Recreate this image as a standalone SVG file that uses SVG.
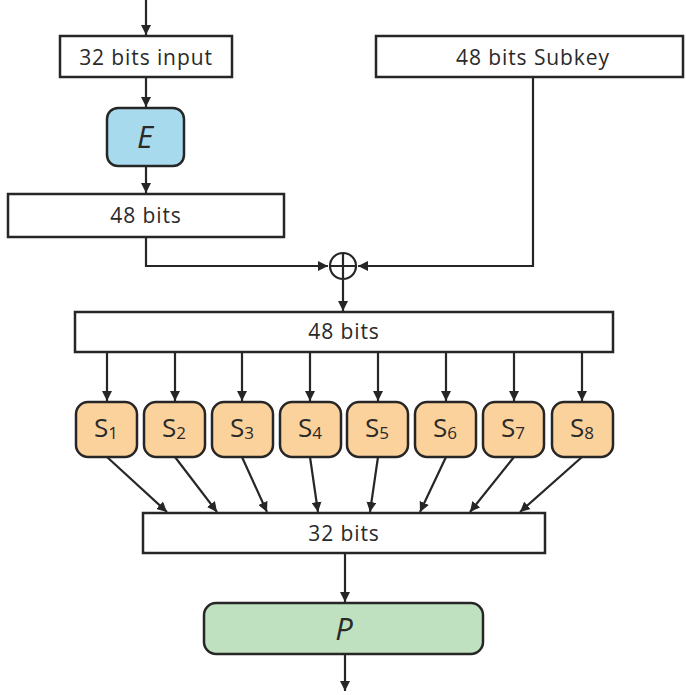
<svg xmlns="http://www.w3.org/2000/svg" width="686" height="695" viewBox="0 0 686 695">
<style>
.box{fill:#fff;stroke:#262626;stroke-width:2.5}
.s{fill:#fcd29c;stroke:#262626;stroke-width:2.5}
.lbl{font-family:"Open Sans","Liberation Sans",sans-serif;font-size:21px;letter-spacing:0.9px;fill:#2a2a2a;text-anchor:middle}
.big{font-family:"Open Sans","Liberation Sans",sans-serif;font-size:31px;font-style:italic;fill:#2a2a2a;text-anchor:middle}
.sl{font-family:"Open Sans","Liberation Sans",sans-serif;font-size:26px;fill:#2a2a2a;text-anchor:middle}
.c{fill:none;stroke:#262626;stroke-width:2.2}
</style>
<defs>
<marker id="ah" viewBox="0 0 10 10" refX="10" refY="5" markerWidth="10" markerHeight="10" markerUnits="userSpaceOnUse" orient="auto">
<path d="M0,0 L10,5 L0,10 Z" fill="#262626"/>
</marker>
</defs>
<g id="connectors">
<path class="c" d="M146,0 V35" marker-end="url(#ah)"/>
<path class="c" d="M146,77 V107" marker-end="url(#ah)"/>
<path class="c" d="M146,166 V193" marker-end="url(#ah)"/>
<path class="c" d="M146,237 V266 H328" marker-end="url(#ah)"/>
<path class="c" d="M533,77 V266 H358" marker-end="url(#ah)"/>
<path class="c" d="M343,280 V311" marker-end="url(#ah)"/>
<path class="c" d="M107,352 V401" marker-end="url(#ah)"/>
<path class="c" d="M175,352 V401" marker-end="url(#ah)"/>
<path class="c" d="M242,352 V401" marker-end="url(#ah)"/>
<path class="c" d="M310,352 V401" marker-end="url(#ah)"/>
<path class="c" d="M378,352 V401" marker-end="url(#ah)"/>
<path class="c" d="M446,352 V401" marker-end="url(#ah)"/>
<path class="c" d="M514,352 V401" marker-end="url(#ah)"/>
<path class="c" d="M582,352 V401" marker-end="url(#ah)"/>
<path class="c" d="M107,457 L167,512" marker-end="url(#ah)"/>
<path class="c" d="M175,457 L217,512" marker-end="url(#ah)"/>
<path class="c" d="M242,457 L267,512" marker-end="url(#ah)"/>
<path class="c" d="M310,457 L318,512" marker-end="url(#ah)"/>
<path class="c" d="M378,457 L370,512" marker-end="url(#ah)"/>
<path class="c" d="M446,457 L420,512" marker-end="url(#ah)"/>
<path class="c" d="M514,457 L470,512" marker-end="url(#ah)"/>
<path class="c" d="M582,457 L520,512" marker-end="url(#ah)"/>
<path class="c" d="M345,553 V602" marker-end="url(#ah)"/>
<path class="c" d="M345,654 V691" marker-end="url(#ah)"/>
</g>
<g id="input32">
<rect class="box" x="60" y="36" width="172" height="41"/>
<text class="lbl" x="146" y="65">32 bits input</text>
</g>
<g id="E">
<rect x="107" y="108" width="77" height="58" rx="11" fill="#a8daee" stroke="#262626" stroke-width="2.5"/>
<text class="big" x="145" y="148">E</text>
</g>
<g id="e48">
<rect class="box" x="8" y="194" width="276" height="43"/>
<text class="lbl" x="146" y="223">48 bits</text>
</g>
<g id="subkey">
<rect class="box" x="376" y="36" width="307" height="41"/>
<text class="lbl" x="533" y="65">48 bits Subkey</text>
</g>
<g id="xor">
<circle cx="343" cy="266" r="13" fill="#fff" stroke="#262626" stroke-width="2.2"/>
<path d="M330,266 H356 M343,253 V279" stroke="#262626" stroke-width="2.2"/>
</g>
<g id="b48">
<rect class="box" x="75" y="312" width="538" height="40"/>
<text class="lbl" x="344" y="339">48 bits</text>
</g>
<g id="S1"><rect class="s" x="76" y="402" width="61" height="55" rx="12"/><text class="sl" x="106" y="437">S<tspan font-size="17" dy="2">1</tspan></text></g>
<g id="S2"><rect class="s" x="144" y="402" width="61" height="55" rx="12"/><text class="sl" x="174" y="437">S<tspan font-size="17" dy="2">2</tspan></text></g>
<g id="S3"><rect class="s" x="212" y="402" width="61" height="55" rx="12"/><text class="sl" x="242" y="437">S<tspan font-size="17" dy="2">3</tspan></text></g>
<g id="S4"><rect class="s" x="280" y="402" width="61" height="55" rx="12"/><text class="sl" x="310" y="437">S<tspan font-size="17" dy="2">4</tspan></text></g>
<g id="S5"><rect class="s" x="347" y="402" width="61" height="55" rx="12"/><text class="sl" x="377" y="437">S<tspan font-size="17" dy="2">5</tspan></text></g>
<g id="S6"><rect class="s" x="415" y="402" width="61" height="55" rx="12"/><text class="sl" x="445" y="437">S<tspan font-size="17" dy="2">6</tspan></text></g>
<g id="S7"><rect class="s" x="483" y="402" width="61" height="55" rx="12"/><text class="sl" x="513" y="437">S<tspan font-size="17" dy="2">7</tspan></text></g>
<g id="S8"><rect class="s" x="552" y="402" width="61" height="55" rx="12"/><text class="sl" x="582" y="437">S<tspan font-size="17" dy="2">8</tspan></text></g>
<g id="b32">
<rect class="box" x="143" y="513" width="402" height="40"/>
<text class="lbl" x="344" y="541">32 bits</text>
</g>
<g id="P">
<rect x="204" y="603" width="279" height="51" rx="12" fill="#c0e1c0" stroke="#262626" stroke-width="2.5"/>
<text class="big" x="344" y="640">P</text>
</g>
</svg>
